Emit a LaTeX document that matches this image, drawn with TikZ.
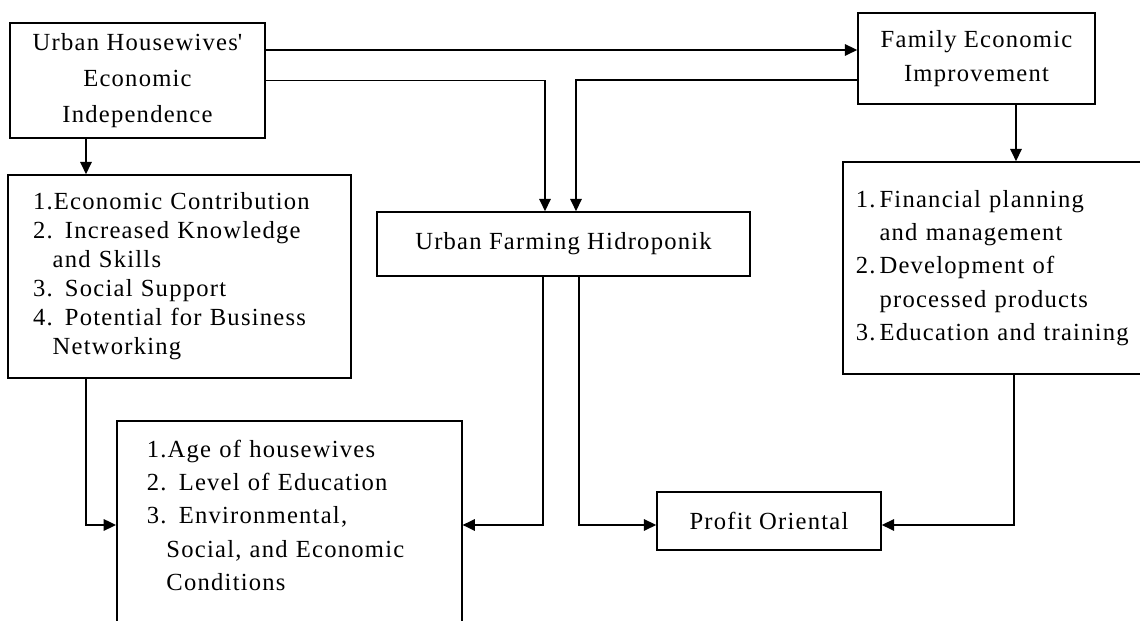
\documentclass[tikz,border=0pt]{standalone}
\usepackage{fontspec}
\setmainfont{Liberation Serif}[LetterSpace=5]
\usetikzlibrary{arrows.meta, positioning, calc}

\begin{document}
\begin{tikzpicture}[
  box/.style={draw, line width=0.9pt, rectangle, inner sep=0pt, font=\fontsize{14}{19}\selectfont},
  arr/.style={line width=1.1pt, -{Triangle[length=7pt,width=6.5pt]}}
]
  % Page frame
  \useasboundingbox (0,0) rectangle (22.8,12.42);
  \clip (0,0) rectangle (22.8,12.42);

  % --- Top row ---
  \node[box, minimum width=5.1cm, minimum height=2.3cm, align=center,
        font=\fontsize{14}{20.5}\selectfont] (indep) at (2.75,10.81)
    {Urban Housewives\textquotesingle\\Economic\\Independence};
  \node[box, minimum width=4.74cm, minimum height=1.82cm, align=center] (famimp) at (19.53,11.25)
    {Family Economic\\Improvement};

  % --- Middle row ---
  \node[box, minimum width=6.86cm, minimum height=4.06cm, text width=5.86cm, inner xsep=0.5cm,
        align=left, font=\fontsize{14}{16.5}\selectfont] (contrib) at (3.59,6.89)
    {1.Economic Contribution\\2. Increased Knowledge\\\phantom{2.}and Skills\\3. Social Support\\
     4. Potential for Business\\\phantom{4.}Networking};
  \node[box, minimum width=7.46cm, minimum height=1.28cm] (farming) at (11.27,7.54)
    {Urban Farming Hidroponik};
  \node[box, anchor=west, minimum height=4.24cm, text width=5.7cm, inner xsep=0.26cm,
        align=left] (strategy) at (16.84,7.06)
    {1.\,Financial planning\\\phantom{1.\,}and management\\2.\,Development of\\
     \phantom{2.\,}processed products\\3.\,Education and training};

  % --- Bottom row ---
  \node[box, anchor=north west, text width=5.7cm, inner xsep=0.6cm, inner ysep=0.38cm,
        align=left] (factors) at (2.32,4.02)
    {1.Age of housewives\\2. Level of Education\\3. Environmental,\\
     \phantom{1.}Social, and Economic\\\phantom{1.}Conditions\\[1.2cm]\mbox{}};
  \node[box, minimum width=4.48cm, minimum height=1.16cm] (profit) at (15.38,2.0)
    {Profit Oriental};

  % Arrows from the top boxes
  \draw[arr] (indep.east |- 0,11.42) -- (famimp.west |- 0,11.42);
  \draw[arr] (indep.east) -| (farming.north -| 10.9,0);
  \draw[arr] (famimp.west |- 0,10.82) -| (farming.north -| 11.52,0);
  \draw[arr] (famimp.south -| 20.32,0) -- (strategy.north -| 20.32,0);
  \draw[arr] (indep.south -| 1.72,0) -- (contrib.north -| 1.72,0);

  % Arrows into the bottom boxes
  \draw[arr] (contrib.south -| 1.72,0) |- (factors.west |- 0,1.92);
  \draw[arr] (farming.south -| 10.86,0) |- (factors.east |- 0,1.92);
  \draw[arr] (farming.south -| 11.58,0) |- (profit.west |- 0,1.92);
  \draw[arr] (strategy.south -| 20.28,0) |- (profit.east |- 0,1.92);
\end{tikzpicture}
\end{document}
